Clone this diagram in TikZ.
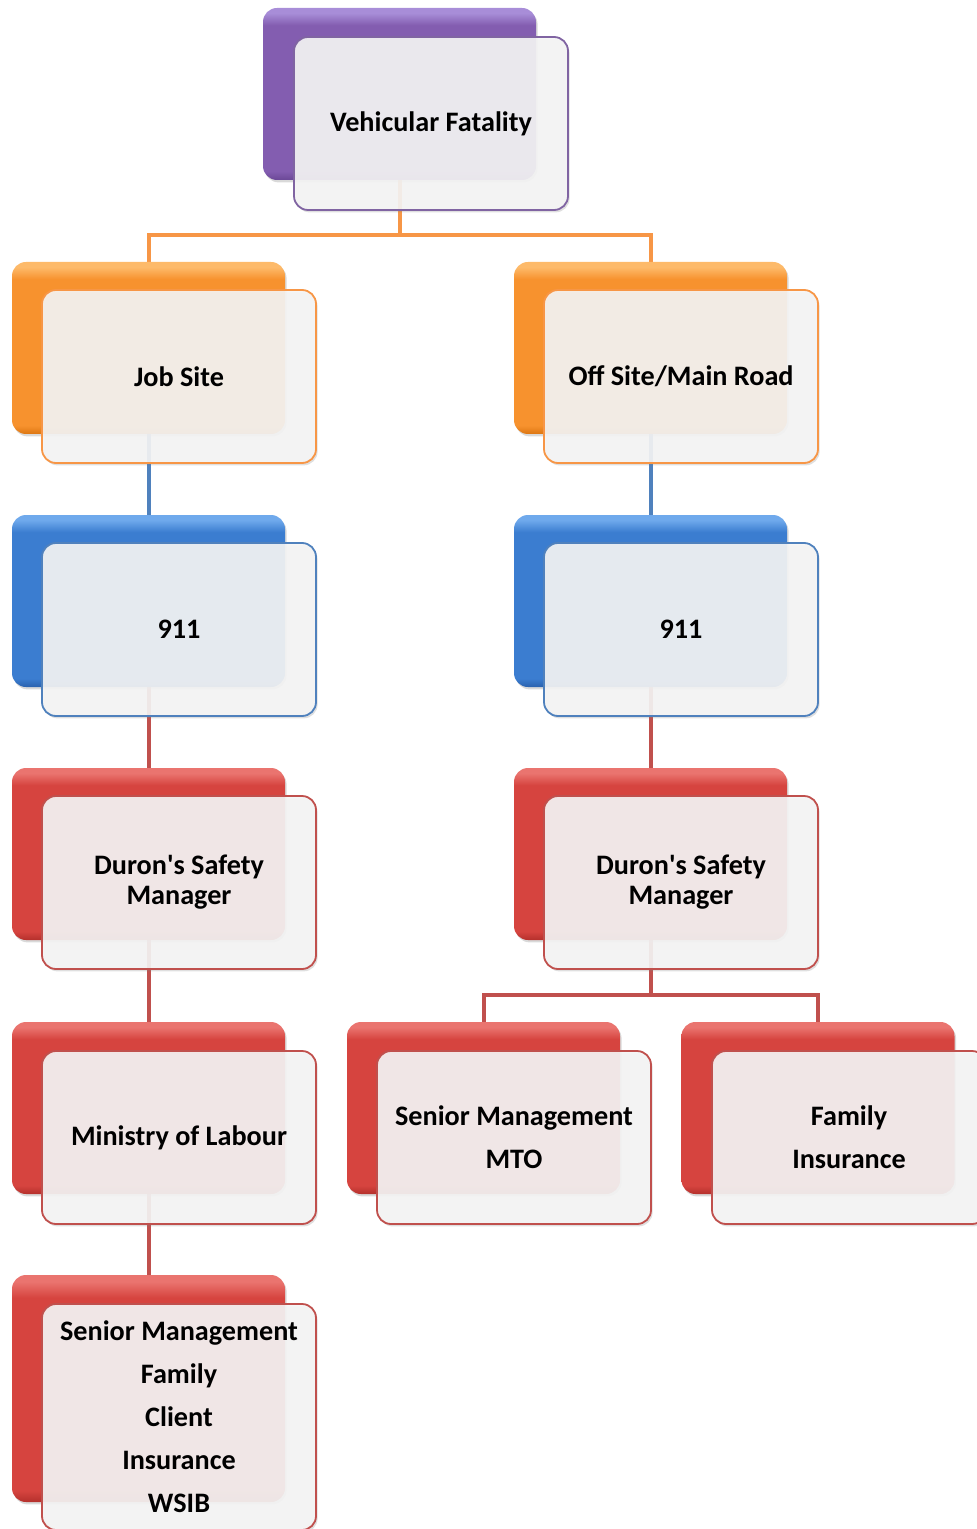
\documentclass[tikz,border=0pt]{standalone}
\usepackage{fontspec}
\setmainfont{Carlito}
\usetikzlibrary{shadows,calc}
\definecolor{purpleA}{HTML}{A88DD8}
\definecolor{purpleB}{HTML}{835DB0}
\definecolor{purpleD}{HTML}{6A4796}
\definecolor{purpleE}{HTML}{8064A2}
\definecolor{orangeA}{HTML}{FDBA6A}
\definecolor{orangeB}{HTML}{F7922E}
\definecolor{orangeD}{HTML}{DC7612}
\definecolor{orangeE}{HTML}{F79646}
\definecolor{blueA}{HTML}{6FA9EC}
\definecolor{blueB}{HTML}{3B7DD0}
\definecolor{blueD}{HTML}{2A62AE}
\definecolor{blueE}{HTML}{4F81BD}
\definecolor{redA}{HTML}{EA746F}
\definecolor{redB}{HTML}{D6443F}
\definecolor{redD}{HTML}{B4302C}
\definecolor{redE}{HTML}{C0504D}
\definecolor{frontfill}{HTML}{F5F5F5}
\pgfdeclareverticalshading{bevelpurple}{100bp}{color(0bp)=(purpleD); color(25bp)=(purpleD); color(27.5bp)=(purpleB); color(70bp)=(purpleB); color(73.5bp)=(purpleA); color(100bp)=(purpleA)}
\pgfdeclareverticalshading{bevelorange}{100bp}{color(0bp)=(orangeD); color(25bp)=(orangeD); color(27.5bp)=(orangeB); color(70bp)=(orangeB); color(73.5bp)=(orangeA); color(100bp)=(orangeA)}
\pgfdeclareverticalshading{bevelblue}{100bp}{color(0bp)=(blueD); color(25bp)=(blueD); color(27.5bp)=(blueB); color(70bp)=(blueB); color(73.5bp)=(blueA); color(100bp)=(blueA)}
\pgfdeclareverticalshading{bevelred}{100bp}{color(0bp)=(redD); color(25bp)=(redD); color(27.5bp)=(redB); color(70bp)=(redB); color(73.5bp)=(redA); color(100bp)=(redA)}
\pgfdeclarelayer{background}
\pgfsetlayers{background,main}
\tikzset{
  backbox/.style={rounded corners=7pt, minimum width=136.5pt, minimum height=86pt, inner sep=0pt,
    drop shadow={opacity=0.3, shadow xshift=0.8pt, shadow yshift=-1.2pt}},
  bpurple/.style={backbox, shade, shading=bevelpurple},
  borange/.style={backbox, shade, shading=bevelorange},
  bblue/.style={backbox, shade, shading=bevelblue},
  bred/.style={backbox, shade, shading=bevelred},
  frontbox/.style={rounded corners=7pt, minimum width=137pt, minimum height=86.5pt, inner sep=0pt,
    fill=frontfill, fill opacity=0.91, text opacity=1, line width=0.9pt, align=center,
    font=\bfseries\fontsize{14.1}{21.5}\selectfont,
    drop shadow={opacity=0.25, shadow xshift=0.8pt, shadow yshift=-1.2pt}},
  tightfont/.style={font=\bfseries\fontsize{14.1}{15}\selectfont},
  conn/.style={line width=2pt, draw=#1},
}
\begin{document}
\begin{tikzpicture}[x=0.5pt,y=-0.5pt]
\useasboundingbox (0,0) rectangle (977,1529);
\clip (0,0) rectangle (977,1529);
% back boxes
\node[bpurple] (v)  at (399.5,94) {};
\node[borange] (j)  at (148.5,348) {};
\node[borange] (o)  at (650.5,348) {};
\node[bblue]   (n1) at (148.5,601) {};
\node[bblue]   (n2) at (650.5,601) {};
\node[bred]    (d1) at (148.5,854) {};
\node[bred]    (d2) at (650.5,854) {};
\node[bred]    (m)  at (148.5,1108) {};
\node[bred]    (s)  at (483.5,1108) {};
\node[bred]    (f)  at (818,1108) {};
\node[bred, minimum height=113.5pt] (l) at (148.5,1388.5) {};
% front boxes
\node[frontbox, draw=purpleE] (vf) at ([xshift=15.75pt,yshift=-14.75pt]v.center) {Vehicular Fatality};
\node[frontbox, draw=orangeE] (jf) at ([xshift=15.25pt,yshift=-14.25pt]j.center) {Job Site};
\node[frontbox, draw=orangeE] (of) at ([xshift=15.25pt,yshift=-14.25pt]o.center) {Off Site/Main Road};
\node[frontbox, draw=blueE] (n1f) at ([xshift=15.25pt,yshift=-14.25pt]n1.center) {911};
\node[frontbox, draw=blueE] (n2f) at ([xshift=15.25pt,yshift=-14.25pt]n2.center) {911};
\node[frontbox, draw=redE, tightfont] (d1f) at ([xshift=15.25pt,yshift=-14.25pt]d1.center) {\raisebox{-1pt}{Duron\textquotesingle s Safety}\\\raisebox{-1pt}{Manager}};
\node[frontbox, draw=redE, tightfont] (d2f) at ([xshift=15.25pt,yshift=-14.25pt]d2.center) {\raisebox{-1pt}{Duron\textquotesingle s Safety}\\\raisebox{-1pt}{Manager}};
\node[frontbox, draw=redE] (mf) at ([xshift=15.25pt,yshift=-14.75pt]m.center) {Ministry of Labour};
\node[frontbox, draw=redE] (sf) at ([xshift=15.25pt,yshift=-14.75pt]s.center) {Senior Management\\MTO};
\node[frontbox, draw=redE] (ff) at ([xshift=15.5pt,yshift=-14.75pt]f.center) {Family\\Insurance};
\node[frontbox, draw=redE, minimum height=113pt] (lf) at ([xshift=15.25pt,yshift=-14.25pt]l.center) {Senior Management\\Family\\Client\\Insurance\\WSIB};
% connectors
\begin{pgfonlayer}{background}
\draw[conn=orangeE] (v.south) |- ($(j.north)+(0,-27)$) -- (j.north);
\draw[conn=orangeE] (v.south) |- ($(o.north)+(0,-27)$) -- (o.north);
\draw[conn=blueE] (j.south) -- (n1.north);
\draw[conn=blueE] (o.south) -- (n2.north);
\draw[conn=redE] (n1.south) -- (d1.north);
\draw[conn=redE] (n2.south) -- (d2.north);
\draw[conn=redE] (d1.south) -- (m.north);
\draw[conn=redE] (d2.south) |- ($(s.north)+(0,-27)$) -- (s.north);
\draw[conn=redE] (d2.south) |- ($(f.north)+(0,-27)$) -- (f.north);
\draw[conn=redE] (m.south) -- (l.north);
\end{pgfonlayer}
\end{tikzpicture}
\end{document}
